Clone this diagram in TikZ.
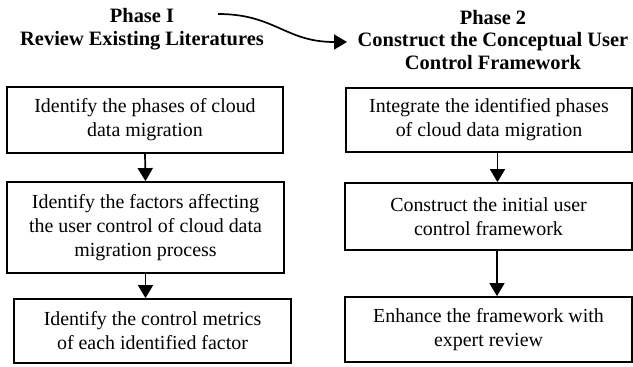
\documentclass[tikz,border=0pt]{standalone}
\usepackage{fontspec}
\setmainfont{Liberation Serif}
\usetikzlibrary{arrows.meta}
\tikzset{
  stepbox/.style={draw, line width=1.8bp, align=center, inner sep=0pt,
    font=\fontsize{20}{24}\selectfont},
  header/.style={align=center, font=\bfseries\fontsize{20.5}{22.5}\selectfont},
  flowarrow/.style={line width=1.7bp, -{Triangle[width=15bp,length=13bp]}},
}
\begin{document}
\begin{tikzpicture}[x=1bp,y=-1bp]
\useasboundingbox (0,0) rectangle (633,366);
% headers
\node[header] (h1) at (142,29) {Phase I\\Review Existing Literatures};
\node[header] (h2) at (493,40) {Phase 2\\Construct the Conceptual User\\Control Framework};
% left column
\node[stepbox, minimum width=276bp, minimum height=66bp] (l1) at (145,120)
  {Identify the phases of cloud\\data migration};
\node[stepbox, minimum width=277bp, minimum height=91bp] (l2) at (145.5,227.5)
  {Identify the factors affecting\\the user control of cloud data\\migration process};
\node[stepbox, minimum width=277bp, minimum height=64bp] (l3) at (152.5,331)
  {Identify the control metrics\\of each identified factor};
% right column
\node[stepbox, minimum width=286bp, minimum height=64bp] (r1) at (489,120)
  {Integrate the identified phases\\of cloud data migration};
\node[stepbox, minimum width=287bp, minimum height=67bp] (r2) at (488.5,216.5)
  {Construct the initial user\\control framework};
\node[stepbox, minimum width=287bp, minimum height=65bp] (r3) at (488.5,329.5)
  {Enhance the framework with\\expert review};
% arrows
\draw[flowarrow] (l1.south) -- (l2.north);
\draw[flowarrow] (l2.south) -- (l2.south |- l3.north);
\draw[flowarrow] ([xshift=8.5bp]r1.south) -- ([xshift=8.5bp]r1.south |- r2.north);
\draw[flowarrow] ([xshift=8.5bp]r2.south) -- ([xshift=8.5bp]r2.south |- r3.north);
% curved arrow between phases
\coordinate (cs) at (218,14);
\coordinate (ce) at (347,42);
\draw[flowarrow] (cs) .. controls (275,14) and (285,42) .. (ce);
\end{tikzpicture}
\end{document}
